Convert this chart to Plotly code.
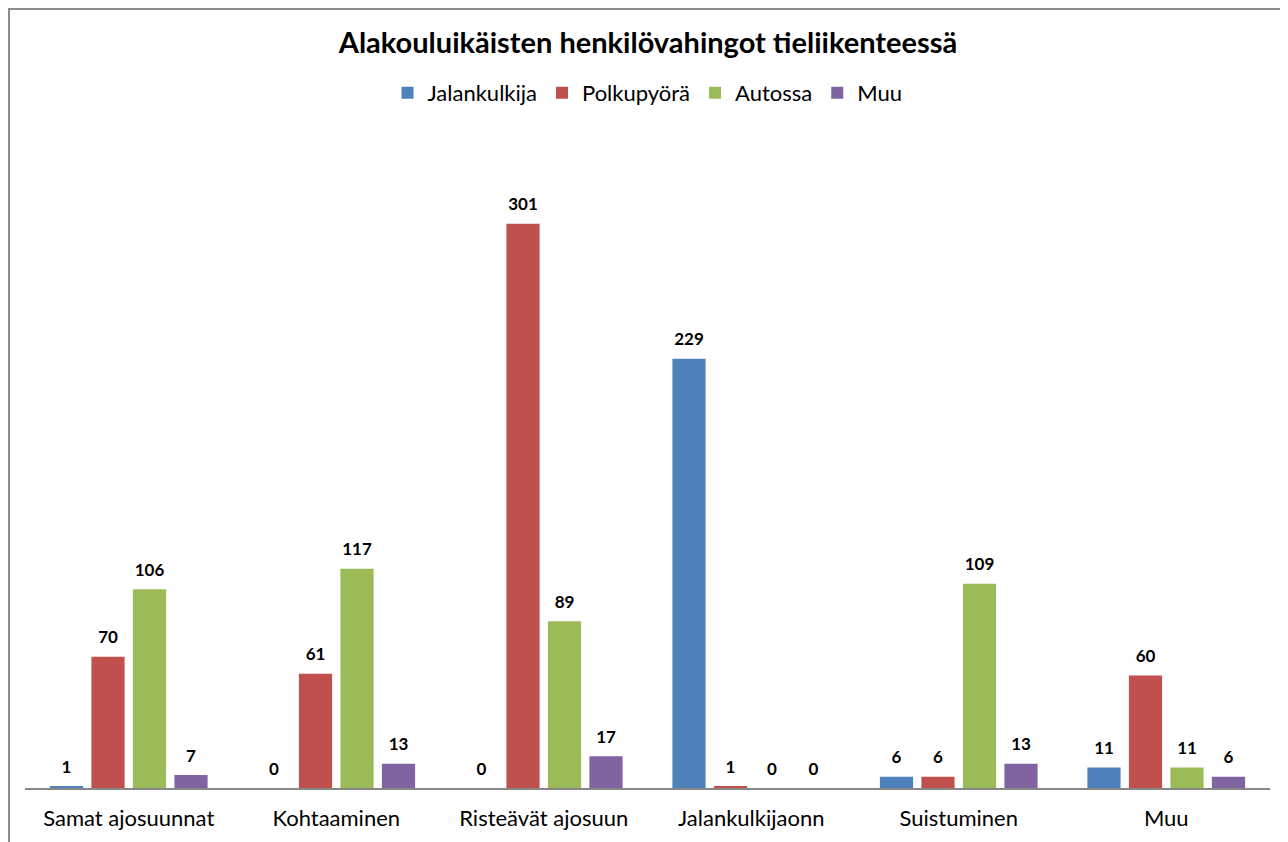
import plotly.graph_objects as go

categories = ["Samat ajosuunnat", "Kohtaaminen", "Risteävät ajosuun", "Jalankulkijaonn", "Suistuminen", "Muu"]
series_names = ["Jalankulkija", "Polkupyörä", "Autossa", "Muu"]
jalankulkija = [1, 0, 0, 229, 6, 11]
polkupyora = [70, 61, 301, 1, 6, 60]
autossa = [106, 117, 89, 0, 109, 11]
muu = [7, 13, 17, 0, 13, 6]
colors = ["#4F81BD", "#C0504D", "#9BBB59", "#8064A2"]

FONT = "Lato"
all_series = [jalankulkija, polkupyora, autossa, muu]

fig = go.Figure()
for name, vals, col in zip(series_names, all_series, colors):
    fig.add_trace(go.Bar(
        x=categories, y=vals, name=name,
        marker=dict(color=col, line=dict(width=0)),
        legendgroup=name,
    ))
for name, vals in zip(series_names, all_series):
    fig.add_trace(go.Scatter(
        x=categories, y=vals, mode="markers+text", showlegend=False,
        legendgroup=name, hoverinfo="skip",
        marker=dict(size=13, opacity=0),
        text=[str(v) for v in vals], textposition="top center",
        textfont=dict(family=FONT, size=17, color="black", weight="bold"),
        cliponaxis=False,
    ))

W, H = 1280, 834  # page body has 8px margin
fig.update_layout(
    width=W, height=H,
    margin=dict(l=17, r=18, t=124, b=54),
    paper_bgcolor="white", plot_bgcolor="white",
    barmode="group", bargap=0.2, bargroupgap=0.2,
    scattermode="group", scattergap=0.2,
    title=dict(text="<b>Alakouluikäisten henkilövahingot tieliikenteessä</b>",
               x=0.5, xanchor="center", y=1 - 35 / H, yanchor="middle",
               font=dict(family=FONT, size=29, color="black")),
    legend=dict(orientation="h", x=0.5, xanchor="center", y=(780 - 85) / 656, yanchor="middle",
                font=dict(family=FONT, size=22, color="black"), itemwidth=30),
    showlegend=True,
)
fig.update_xaxes(showline=True, linecolor="#888888", linewidth=2, ticks="",
                 tickfont=dict(family=FONT, size=22, color="black"), showgrid=False,
                 ticklabelstandoff=10)
fig.update_yaxes(range=[0, 350], visible=False, showgrid=False)

fig.add_shape(type="rect", xref="paper", yref="paper",
              x0=(1 - 17) / 1245, x1=(1300 - 17) / 1245,
              y0=(780 - 860) / 656, y1=(780 - 1) / 656,
              line=dict(color="#8c8c8c", width=2), fillcolor="rgba(0,0,0,0)", layer="below")

fig.write_html("out.html")
